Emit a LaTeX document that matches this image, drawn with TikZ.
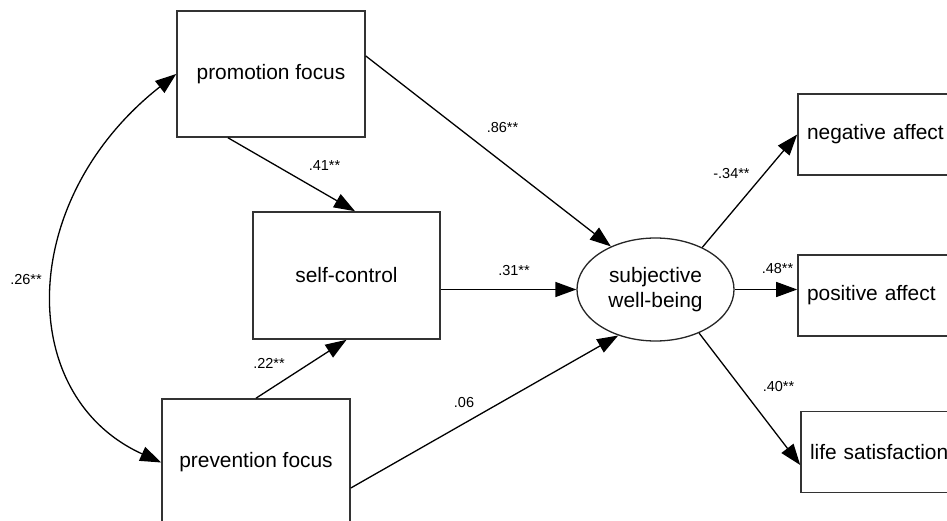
\documentclass[tikz,border=0pt]{standalone}
\usepackage{fontspec}
\setmainfont{Liberation Sans}
\usetikzlibrary{arrows.meta,shapes.geometric,positioning}
\tikzset{varbox/.style = {draw=black!80, line width=1.6pt, minimum width=188pt, minimum height=126pt, inner sep=0pt, font=\fontsize{20.9}{25}\selectfont}}
\tikzset{indbox/.style = {varbox, minimum width=160pt, minimum height=81pt, text width=142pt, align=left}}
\tikzset{latent/.style = {ellipse, draw=black!85, line width=1.3pt, minimum width=157pt, minimum height=103pt, inner sep=0pt, align=center, font=\fontsize{20.9}{25}\selectfont}}
\tikzset{arrow/.style={line width=1.3pt,-{Triangle[length=21pt,width=15pt]}}}
\tikzset{coef/.style={inner sep=0pt, font=\fontsize{14.5}{16}\selectfont}}

\begin{document}
\begin{tikzpicture}[x=1pt,y=-1pt]
\useasboundingbox (0,0) rectangle (947,521);

% predictors and mediator
\node[varbox] (promo) at (271,74) {promotion focus};
\node[varbox, minimum width=187pt, minimum height=127pt] (selfc) at (346.5,275.5) {self-control};
\node[varbox, minimum height=127pt] (prev) at (256,462.5) {prevention focus};

% latent outcome and its indicators
\node[latent] (swb) at (655.5,289.5) {subjective\\well-being};
\node[indbox] (neg) at (878,134.5) {negative affect};
\node[indbox] (pos) at (878,295.5) {positive affect};
\node[indbox] (life) at (881,452) {life satisfaction};

% paths
\draw[line width=1.3pt,{Triangle[length=21pt,width=15pt]}-{Triangle[length=21pt,width=15pt]}] (promo.west) .. controls +(-160,126) and +(-146,-66) .. (prev.west);
\draw[arrow] ([xshift=-43pt]promo.south) -- ([xshift=8.5pt]selfc.north);
\draw[arrow] (prev.north) -- (selfc.south);
\draw[arrow] ([yshift=18pt]promo.east) -- (swb.136);
\draw[arrow] (swb.west -| selfc.east) -- (swb.west);
\draw[arrow] ([yshift=-25.5pt]prev.east) -- (swb.231);
\draw[arrow] (swb.42) -- (neg.west);
\draw[arrow] (swb.east) -- (swb.east -| pos.west);
\draw[arrow] (swb.-45) -- ([yshift=-13pt]life.west);

% coefficients
\node[coef] (c26) at (26,280) {.26**};
\node[coef] (c41) at (324.5,166) {.41**};
\node[coef] (c22) at (269,363) {.22**};
\node[coef] (c86) at (502.5,128) {.86**};
\node[coef] (c31) at (514,271) {.31**};
\node[coef] (c06) at (464,403) {.06};
\node[coef] (c34) at (731.5,174) {-.34**};
\node[coef] (c48) at (777.5,269) {.48**};
\node[coef] (c40) at (778.5,387) {.40**};
\end{tikzpicture}
\end{document}
